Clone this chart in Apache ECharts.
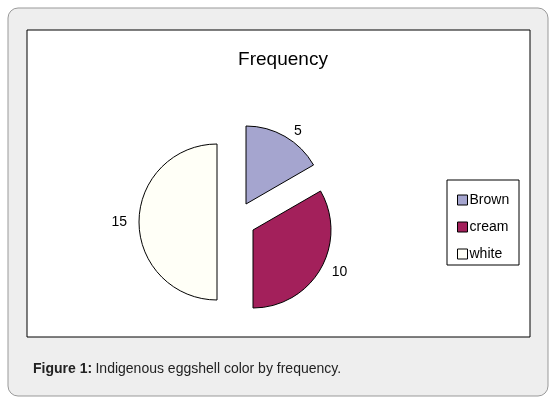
<!DOCTYPE html>
<html><head><meta charset="utf-8">
<script src="https://cdn.jsdelivr.net/npm/echarts@6/dist/echarts.min.js"></script>
<style>body{margin:0;background:#fff}#c{width:556px;height:407px}</style>
</head><body><div id="c"></div>
<script>
const categories = ['Brown', 'cream', 'white'];
const values = [5, 10, 15];
const colors = ['#a5a5cf', '#a3205b', '#fffff7'];
const centers = [[246, 204], [253, 230], [217, 222]];

const chart = echarts.init(document.getElementById('c'));
const series = categories.map((name, k) => ({
  type: 'pie', center: centers[k], radius: 78, startAngle: 90, clockwise: true,
  silent: true, animation: false, legendHoverLink: false,
  data: categories.map((n, i) => ({
    name: n, value: values[i],
    itemStyle: i === k ? { color: colors[i], borderColor: '#000', borderWidth: 1 } : { color: 'rgba(0,0,0,0)', borderWidth: 0 },
    label: { show: i === k, formatter: '{c}', color: '#000', fontSize: 14, fontFamily: 'Liberation Sans' },
    labelLine: { show: false }
  })),
  label: { position: 'outside', distanceToLabelLine: 0 },
  labelLine: { length: 6, length2: 6 }
}));
chart.setOption({
  graphic: [
    { type: 'rect', shape: { x: 8, y: 8, width: 540, height: 388, r: 10 }, style: { fill: '#eeeeee', stroke: '#999', lineWidth: 1 }, z: -10 },
    { type: 'rect', shape: { x: 27, y: 30, width: 503, height: 307 }, style: { fill: '#fff', stroke: '#000', lineWidth: 1 }, z: -9 },
    { type: 'text', left: 33, top: 362, style: { rich: { b: { fontWeight: 'bold', fontSize: 14, fontFamily: 'Liberation Sans', fill: '#222' }, n: { fontSize: 14, fontFamily: 'Liberation Sans', fill: '#222' } }, text: '{b|Figure 1:} {n|Indigenous eggshell color by frequency.}' } },
    { type: 'rect', shape: { x: 447, y: 180, width: 72, height: 85 }, style: { fill: '#fff', stroke: '#000', lineWidth: 1 }, z: -1 }
  ],
  title: { text: 'Frequency', left: 278, top: 45, textAlign: 'center', textStyle: { fontSize: 19, fontWeight: 'normal', fontFamily: 'Liberation Sans', color: '#000' } },
  legend: {
    orient: 'vertical', left: 452, top: 188, itemWidth: 10, itemHeight: 10, itemGap: 13,
    icon: 'rect', selectedMode: false,
    data: categories.map((n, i) => ({ name: n, itemStyle: { color: colors[i], borderColor: '#000', borderWidth: 1 } })),
    textStyle: { fontSize: 14, fontFamily: 'Liberation Sans', color: '#000', padding: [0, 0, 0, -3] }
  },
  series
});
</script></body></html>
